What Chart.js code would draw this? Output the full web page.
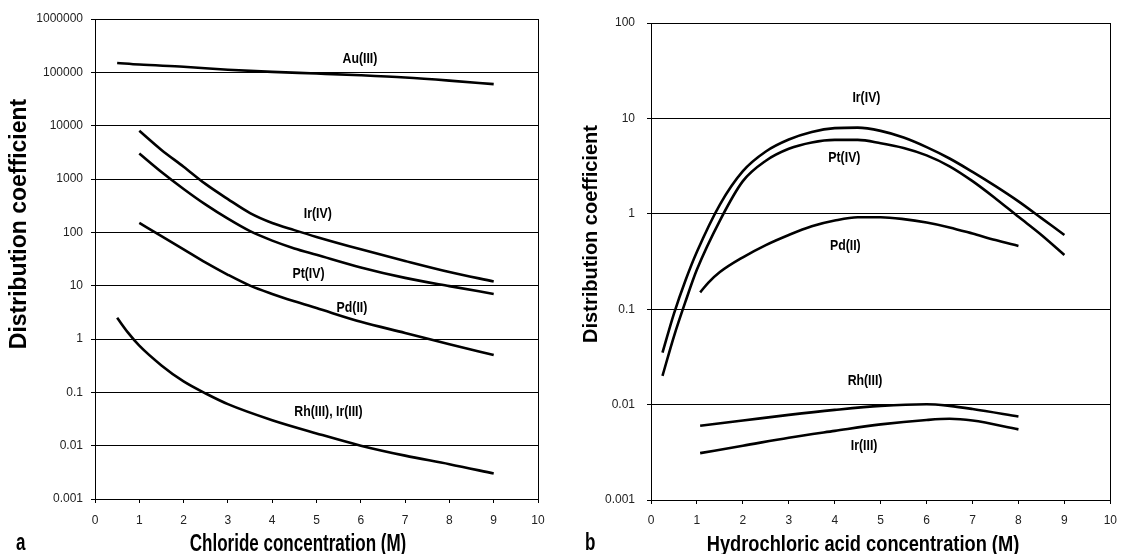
<!DOCTYPE html>
<html>
<head>
<meta charset="utf-8">
<script src="https://cdn.jsdelivr.net/npm/chart.js@4.4.1/dist/chart.umd.min.js"></script>
<style>
  html, body { margin: 0; padding: 0; background: #fff; }
  #wrap { position: relative; width: 1126px; height: 554px; }
  .panel { position: absolute; top: 0; width: 563px; height: 554px; }
</style>
</head>
<body>
<div id="wrap">
  <div class="panel" style="left:0"><canvas id="chartA"></canvas></div>
  <div class="panel" style="left:563px"><canvas id="chartB"></canvas></div>
</div>
<script>
// ---- panel a: chloride concentration ----
const auX = [0.5, 1, 2, 3, 4, 5, 6, 7, 8, 9];
const auA = [150000, 140000, 127000, 112000, 102000, 95000, 88000, 80000, 70000, 60000];
const ivX = [1, 1.5, 2, 2.5, 3, 3.5, 4, 4.5, 5, 6, 7, 8, 9];
const irIvA = [8000, 3500, 1700, 800, 420, 230, 150, 110, 82, 48, 29, 18, 12];
const ptIvA = [3000, 1350, 650, 330, 180, 105, 70, 50, 38, 22, 14, 9.8, 7];
const pdIIA = [150, 85, 48, 27, 16, 10, 7, 5.1, 3.8, 2.1, 1.3, 0.8, 0.5];
const rhIrX = [0.5, 0.75, 1, 1.5, 2, 2.5, 3, 4, 5, 6, 7, 8, 9];
const rhIrA = [2.5, 1.3, 0.75, 0.32, 0.16, 0.095, 0.06, 0.03, 0.017, 0.01, 0.0065, 0.0045, 0.003];
const yTicksA = [0.001, 0.01, 0.1, 1, 10, 100, 1000, 10000, 100000, 1000000];

// ---- panel b: hydrochloric acid concentration ----
const ivXB = [0.25, 0.5, 0.75, 1, 1.5, 2, 2.5, 3, 3.5, 4, 4.5, 5, 5.5, 6, 6.5, 7, 7.5, 8, 8.5, 9];
const irIvB = [0.035, 0.09, 0.2, 0.4, 1.25, 2.8, 4.5, 6.0, 7.2, 7.9, 8.0, 7.4, 6.3, 5.0, 3.8, 2.75, 1.95, 1.35, 0.9, 0.6];
const ptIvB = [0.02, 0.052, 0.12, 0.26, 0.85, 2.2, 3.6, 4.8, 5.6, 5.95, 5.95, 5.5, 4.9, 4.1, 3.15, 2.2, 1.45, 0.93, 0.6, 0.37];
const pdXB = [1.07, 1.25, 1.5, 2, 2.5, 3, 3.5, 4, 4.5, 5, 5.5, 6, 6.5, 7, 7.5, 8];
const pdIIB = [0.15, 0.19, 0.245, 0.35, 0.47, 0.6, 0.74, 0.85, 0.92, 0.92, 0.88, 0.81, 0.72, 0.62, 0.53, 0.46];
const iiiXB = [1.07, 2, 3, 4, 5, 6, 6.5, 7, 8];
const rhIIIB = [0.006, 0.0068, 0.0078, 0.0088, 0.0097, 0.0101, 0.0097, 0.009, 0.0075];
const irIIIB = [0.0031, 0.0037, 0.0045, 0.0053, 0.0062, 0.0069, 0.0071, 0.0068, 0.0055];
const yTicksB = [0.001, 0.01, 0.1, 1, 10, 100];

const xTicks = [0, 1, 2, 3, 4, 5, 6, 7, 8, 9, 10];

// curve labels, placed in data coordinates
const labelsA = [
  { text: "Au(III)", x: 5.98, y: 178000 },
  { text: "Ir(IV)", x: 5.03, y: 218 },
  { text: "Pt(IV)", x: 4.82, y: 16.6 },
  { text: "Pd(II)", x: 5.8, y: 3.86 },
  { text: "Rh(III), Ir(III)", x: 5.27, y: 0.0433 },
];
const labelsB = [
  { text: "Ir(IV)", x: 4.69, y: 16.3 },
  { text: "Pt(IV)", x: 4.21, y: 3.9 },
  { text: "Pd(II)", x: 4.23, y: 0.46 },
  { text: "Rh(III)", x: 4.66, y: 0.0178 },
  { text: "Ir(III)", x: 4.64, y: 0.0037 },
];

const pts = (xs, ys) => xs.map((x, i) => ({ x, y: ys[i] }));
const SANS = '"Liberation Sans", Arial, sans-serif';

// text drawn squeezed horizontally, like the narrow type of the figure
function squeezed(ctx, text, x, y, sx, rotate) {
  ctx.save();
  ctx.translate(x, y);
  ctx.scale(sx, 1);
  if (rotate) ctx.rotate(-Math.PI / 2);
  ctx.fillText(text, 0, 0);
  ctx.restore();
}

function textPlugin(cfg) {
  return {
    id: "curveText",
    afterDraw(chart) {
      const { ctx, scales: { x, y } } = chart;
      ctx.save();
      ctx.fillStyle = "#000";
      ctx.textAlign = "center";
      ctx.textBaseline = "middle";
      ctx.font = "bold 15px " + SANS;
      cfg.labels.forEach((l) => {
        squeezed(ctx, l.text, x.getPixelForValue(l.x), y.getPixelForValue(l.y), 0.82, false);
      });
      // y axis title
      ctx.font = "bold " + cfg.yTitleSize + "px " + SANS;
      squeezed(ctx, "Distribution coefficient", cfg.yTitleX, cfg.yTitleY, 1, true);
      // x axis title and panel letter
      ctx.font = "bold " + cfg.xTitleSize + "px " + SANS;
      ctx.textBaseline = "alphabetic";
      squeezed(ctx, cfg.xTitle, cfg.xTitleX, 551, cfg.squeeze, false);
      ctx.font = "bold 23px " + SANS;
      ctx.textAlign = "left";
      squeezed(ctx, cfg.letter, cfg.letterX, 550, 0.74, false);
      ctx.restore();
    },
  };
}

function panelChart(canvas, cfg) {
  const datasets = cfg.series.map((data) => ({
    data,
    borderColor: "#000",
    borderWidth: 2.6,
    pointRadius: 0,
    fill: false,
    cubicInterpolationMode: "monotone",
  }));

  return new Chart(canvas, {
    type: "line",
    data: { datasets },
    options: {
      responsive: true,
      maintainAspectRatio: false,
      animation: false,
      layout: { padding: { left: 0, right: cfg.padRight, top: cfg.padTop, bottom: 0 } },
      plugins: { legend: { display: false }, tooltip: { enabled: false } },
      scales: {
        x: {
          type: "linear",
          min: 0,
          max: 10,
          afterBuildTicks: (s) => { s.ticks = xTicks.map((v) => ({ value: v })); },
          afterFit: (s) => { s.height = cfg.xHeight; },
          ticks: {
            padding: cfg.xTickPad,
            color: "#222",
            font: { family: SANS, size: 12 },
          },
          grid: {
            color: (c) => (c.tick && c.tick.value === 10 ? "#000" : "rgba(0,0,0,0)"),
            tickColor: "#000",
            tickLength: 4,
            lineWidth: 1,
          },
          border: { display: true, color: "#000", width: 1 },
          title: { display: false },
        },
        y: {
          type: "logarithmic",
          min: cfg.yTicks[0],
          max: cfg.yTicks[cfg.yTicks.length - 1],
          afterBuildTicks: (s) => { s.ticks = cfg.yTicks.map((v) => ({ value: v })); },
          afterFit: (s) => { s.width = cfg.yWidth; },
          ticks: {
            padding: cfg.yTickPad,
            color: "#222",
            font: { family: SANS, size: 12 },
            callback: (v) => String(v),
          },
          grid: { color: "#000", lineWidth: 1, tickLength: 4 },
          border: { display: true, color: "#000", width: 1 },
        },
      },
    },
    plugins: [textPlugin(cfg)],
  });
}

panelChart(document.getElementById("chartA"), {
  series: [pts(auX, auA), pts(ivX, irIvA), pts(ivX, ptIvA), pts(ivX, pdIIA), pts(rhIrX, rhIrA)],
  yTicks: yTicksA,
  labels: labelsA,
  xTitle: "Chloride concentration (M)",
  yWidth: 95,
  xHeight: 55,
  padRight: 25,
  padTop: 19,
  xTickPad: 10,
  yTickPad: 8,
  letter: "a",
  letterX: 16,
  xTitleSize: 23,
  squeeze: 0.74,
  xTitleX: 298,
  yTitleSize: 23,
  yTitleX: 20,
  yTitleY: 224,
});

panelChart(document.getElementById("chartB"), {
  series: [pts(ivXB, irIvB), pts(ivXB, ptIvB), pts(pdXB, pdIIB), pts(iiiXB, rhIIIB), pts(iiiXB, irIIIB)],
  yTicks: yTicksB,
  labels: labelsB,
  xTitle: "Hydrochloric acid concentration (M)",
  yWidth: 88,
  xHeight: 54,
  padRight: 14,
  padTop: 23,
  xTickPad: 9,
  yTickPad: 12,
  letter: "b",
  letterX: 22,
  xTitleSize: 22,
  squeeze: 0.83,
  xTitleX: 300,
  yTitleSize: 20,
  yTitleX: 28.5,
  yTitleY: 234,
});
</script>
</body>
</html>
